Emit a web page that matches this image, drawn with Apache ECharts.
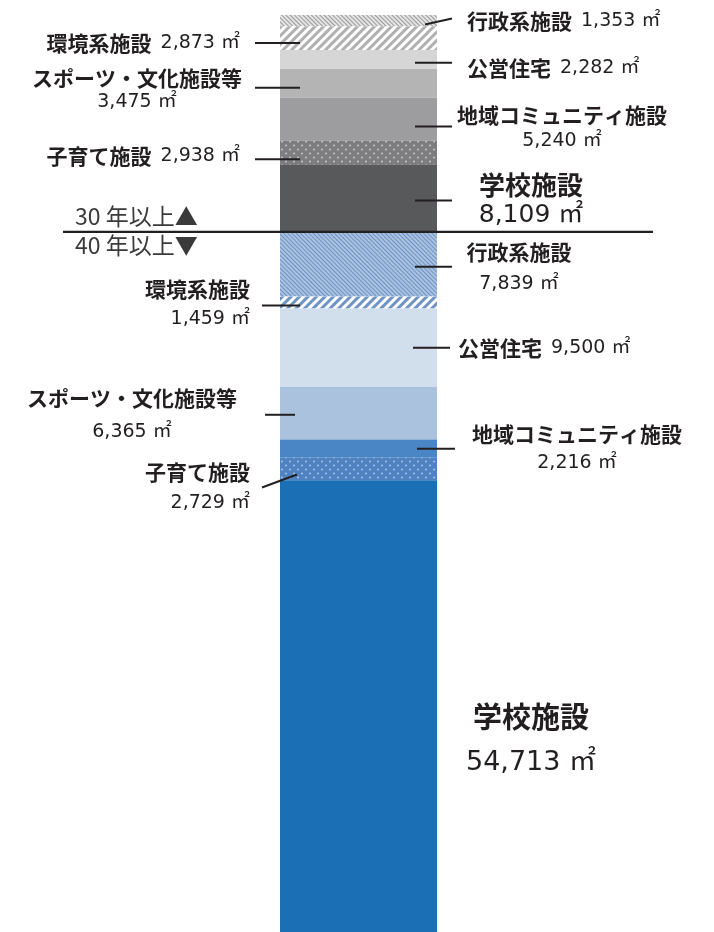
<!DOCTYPE html>
<html><head><meta charset="utf-8">
<script src="https://cdn.jsdelivr.net/npm/echarts@6/dist/echarts.min.js"></script>
<style>html,body{margin:0;padding:0;background:#fff}#c{width:714px;height:932px}</style>
</head><body><div id="c"></div>
<script>
// ---- data ----
const facilityNames = ['行政系施設','環境系施設','公営住宅','スポーツ・文化施設等','地域コミュニティ施設','子育て施設','学校施設'];
const values30 = [1353, 2873, 2282, 3475, 5240, 2938, 8109];   // 築30年以上 (m²)
const values40 = [7839, 1459, 9500, 6365, 2216, 2729, 54713];  // 築40年以上 (m²)
const periodLabels = ['30 年以上▲', '40 年以上▼'];
const unit = '㎡';

// ---- styles ----
const colors30 = ['#e4e4e4', '#ffffff', '#d6d6d6', '#b4b4b4', '#9d9d9f', '#7d7d7f', '#58595b'];
const colors40 = ['#a9c2df', '#ffffff', '#d1deec', '#aac2dd', '#4a86c6', '#4f82c1', '#1b6fb5'];
function hatch(color, w, gap, rot){ return {symbol:'rect', symbolSize:1, dashArrayX:[1,0], dashArrayY:[w,gap], rotation:rot, color:color}; }
function dots(color){ return {symbol:'circle', symbolSize:0.7, dashArrayX:[[4,4],[0,4,4,0]], dashArrayY:[3,1], rotation:0, color:color}; }
const decals30 = [hatch('#9a9a9a',1,2,Math.PI/4), hatch('#b0b0b0',3,3,-Math.PI/4), null, null, null, dots('rgba(255,255,255,0.55)'), null];
const decals40 = [hatch('#6f93c3',1,2,Math.PI/4), hatch('#6f94c4',3,3,-Math.PI/4), null, null, null, dots('rgba(255,255,255,0.5)'), null];

const BAR_W = 157;
const TXT = '#231f20';
const FONT = '"Noto Sans CJK JP", "Noto Sans", sans-serif';
const NUMFONT = '"DejaVu Sans", "Noto Sans CJK JP", sans-serif';
const SMALL = 21, SMALLV = 19;

// label layout per segment (offsets relative to segment middle and bar edge)
// side: 'R' -> x offsets from bar right edge, 'L' -> from bar left edge
const labelLayout = [
  // 30 years
  {side:'R', line:[-12,4,15,-2], tx:30, dy:0, align:'left', two:false, big:false},
  {side:'L', line:[20,5,-25,5], tx:-40, dy:5, align:'right', two:false, big:false},
  {side:'R', line:[-22,3.5,15,3.5], tx:30, dy:8.5, align:'left', two:false, big:false},
  {side:'L', line:[20,4.6,-25,4.6], tx:-143, dy:6.6, align:'center', two:true, lh:24, big:false},
  {side:'R', line:[-22,7.5,15,7.5], tx:125, dy:9, align:'center', two:true, lh:27, big:false},
  {side:'L', line:[20,6.5,-25,6.5], tx:-40, dy:3.5, align:'right', two:false, big:false},
  {side:'R', line:[-22,2,15,2], tx:94, dy:2, align:'center', two:true, lh:30, big:true, bs:26, vs:25},
  // 40 years
  {side:'R', line:[-22,2.5,15,2.5], tx:82, dy:3.5, align:'center', two:true, lh:32, big:false},
  {side:'L', line:[20,3,-18,3], tx:-30, dy:1, align:'right', two:true, lh:30, big:false},
  {side:'R', line:[-24,0,13,0], tx:21, dy:0, align:'left', two:false, big:false},
  {side:'L', line:[15,1.5,-15,1.5], tx:-148, dy:2, align:'center', two:true, lh:34, big:false},
  {side:'R', line:[-20,0,18,0], tx:140, dy:0, align:'center', two:true, lh:29, big:false},
  {side:'L', line:[17,5.4,-18,18.4], tx:-30, dy:18, align:'right', two:true, lh:31, big:false},
  {side:'R', line:null, tx:94, dy:34, align:'center', two:true, lh:46, big:true, bs:29, vs:27}
];

// ---- build ----
const allValues = values30.concat(values40);
const allColors = colors30.concat(colors40);
const allDecals = decals30.concat(decals40);
const allNames = facilityNames.concat(facilityNames);
const total = allValues.reduce((a,b)=>a+b,0);
const total30 = values30.reduce((a,b)=>a+b,0);

const barSeries = allValues.map((v,i)=>{
  const st = {color: allColors[i]};
  if (allDecals[i]) st.decal = allDecals[i];
  return {type:'bar', name: allNames[i] + (i<7?'(30)':'(40)'), stack:'all', barWidth:BAR_W, data:[v], itemStyle: st, silent:true, animation:false};
});

const labelData = [];
let acc = 0;
allValues.forEach((v,i)=>{ labelData.push([0, acc, acc+v, i]); acc += v; });
labelData.push([0, total30, total30, -1]);

function fmt(v){ return v.toLocaleString('en-US'); }

const labelSeries = {
  type:'custom', coordinateSystem:'cartesian2d', silent:true, animation:false, z:10,
  encode:{x:0, y:[1,2]},
  data: labelData,
  renderItem: function(params, api){
    const idx = api.value(3);
    const cs = params.coordSys;
    if (idx < 0) {
      const y = api.coord([0, api.value(1)])[1];
      return {type:'group', children:[
        {type:'line', shape:{x1:cs.x-1, y1:y, x2:cs.x+cs.width, y2:y}, style:{stroke:TXT, lineWidth:2.2}},
        {type:'text', x:cs.x+11, y:y-16, style:{text:periodLabels[0], fill:'#3a3a3a', font:'23px '+FONT, align:'left', verticalAlign:'middle'}},
        {type:'text', x:cs.x+11, y:y+13, style:{text:periodLabels[1], fill:'#3a3a3a', font:'23px '+FONT, align:'left', verticalAlign:'middle'}}
      ]};
    }
    const p1 = api.coord([0, api.value(1)]);
    const p2 = api.coord([0, api.value(2)]);
    const mid = (p1[1]+p2[1])/2;
    const left = p1[0] - BAR_W/2, right = p1[0] + BAR_W/2;
    const L = labelLayout[idx];
    const edge = L.side === 'R' ? right : left;
    const children = [];
    if (L.line) {
      children.push({type:'line', shape:{x1:edge+L.line[0], y1:mid+L.line[1], x2:edge+L.line[2], y2:mid+L.line[3]}, style:{stroke:TXT, lineWidth:2}});
    }
    const name = allNames[idx];
    const val = fmt(allValues[idx]) + ' ' + unit;
    const text = L.two ? '{n|' + name + '}\n{v|' + val + '}' : '{n|' + name + '}{v|' + val + '}';
    const ns = L.big ? L.bs : SMALL, vs = L.big ? L.vs : SMALLV;
    const lh = L.two ? L.lh : 24;
    children.push({type:'text', x:edge+L.tx, y:mid+L.dy, style:{
      text:text, align:L.align, verticalAlign:'middle',
      rich:{
        n:{fontFamily:FONT, fontWeight:'bold', fontSize:ns, fill:TXT, lineHeight:lh, align:L.align},
        v:{fontFamily:NUMFONT, fontWeight:'normal', fontSize:vs, fill:TXT, lineHeight:lh, align:L.align, padding: L.two ? 0 : [0,0,0,9]}
      }
    }});
    return {type:'group', children:children};
  }
};

const chart = echarts.init(document.getElementById('c'), null, {renderer:'canvas'});
chart.setOption({
  backgroundColor:'#ffffff',
  animation:false,
  grid:{left:64, right:61, top:15, height:922},
  xAxis:{type:'category', data:['延床面積'], show:false},
  yAxis:{type:'value', inverse:true, min:0, max:total, show:false},
  series: barSeries.concat([labelSeries])
});
</script></body></html>
